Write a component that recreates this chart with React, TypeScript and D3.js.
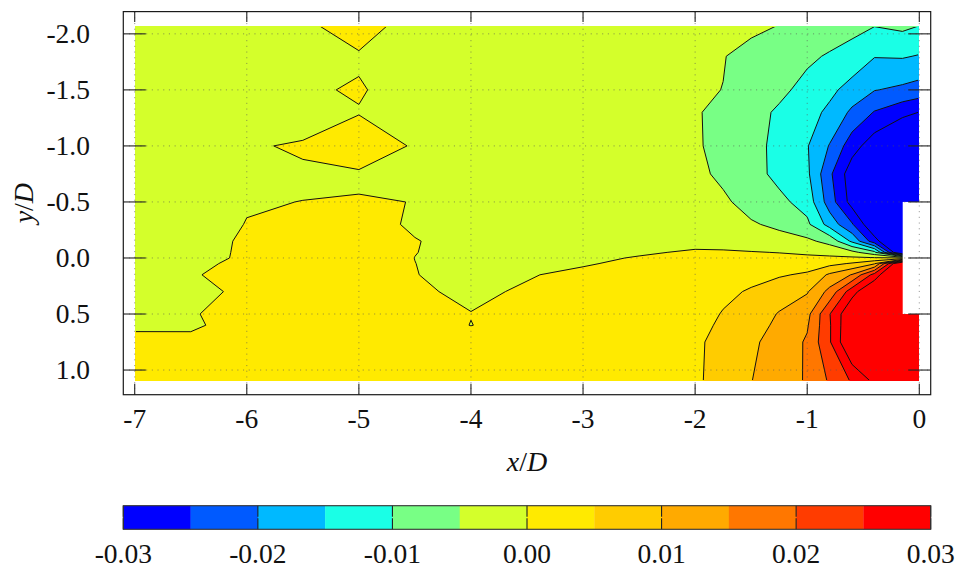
import React from 'react';
import * as d3 from 'd3';

// grid columns (x/D) and rows (y/D) of the measured field
const xGrid = [-7, -6.5, -6, -5.5, -5, -4.5, -4, -3.5, -3, -2.5, -2, -1.75, -1.5, -1.25, -1.0, -0.8, -0.6, -0.4, -0.15, 0];
const yGrid = [-2.07, -1.8, -1.5, -1.3, -1.0, -0.75, -0.5, -0.3, -0.15, -0.05, 0, 0.05, 0.15, 0.3, 0.5, 0.6, 0.75, 1.1];

// field values in units of 1e-3, one row per yGrid entry
const fieldRows = [
  [-2.0, -2.0, -1.9, -1.58, 3.68, -3.68, -2.2, -2.3, -2.4, -2.4, -2.5, -3.2, -4.2, -5.1, -6.3, -7.3, -8.5, -9.9, -9.0, -10.05],
  [-2.0, -2.0, -1.8, -1.5, -0.836, -2.5, -2.5, -2.6, -2.8, -3.0, -3.6, -4.85, -6.2, -7.6, -9.1, -10.5, -12.0, -14.8, -14.6, -15.3],
  [-2.0, -1.8, -1.6, -0.82, 0.557, -3.0, -2.5, -2.6, -2.9, -3.6, -4.5, -5.05, -7.2, -8.9, -11.5, -13.9, -16.8, -19.8, -21.0, -22.0],
  [-2.0, -1.8, -1.5, -1.5, -0.3, -2.0, -2.2, -2.5, -3.0, -3.8, -4.5, -6.5, -8.3, -10.7, -13.2, -16.0, -21.0, -25.3, -28.5, -30.1],
  [-1.8, -1.5, -0.277, 0.3, 3.5, -0.57, -1.8, -2.2, -2.8, -3.6, -4.4, -6.5, -8.8, -11.0, -14.7, -20.3, -27.8, -33.0, -38.0, -40.0],
  [-1.6, -1.2, -0.6, -0.325, -0.643, -0.5, -1.4, -1.8, -2.2, -2.8, -3.8, -6.0, -8.0, -11.5, -14.0, -24.0, -33.0, -38.0, -42.0, -43.0],
  [-1.5, -1.0, -0.12, 0.02, 0.25, -0.05, -0.9, -1.2, -1.6, -2.0, -2.5, -4.2, -6.8, -8.7, -12.0, -22.5, -32.0, -38.0, -42.0, -42.0],
  [-1.3, -0.8, 0.05, 0.8, 1.0, -0.35, -1.0, -1.0, -1.2, -1.4, -1.5, -2.5, -4.5, -6.0, -9.0, -17.0, -24.5, -35.0, -42.0, -42.0],
  [-1.2, -0.6, 0.2, 1.2, 1.3, 0.1, -0.8, -0.9, -0.9, -0.9, -0.8, -1.4, -2.2, -3.2, -4.0, -6.5, -16.0, -28.0, -40.0, -40.0],
  [-1.1, -0.5, 0.2, 1.3, 1.4, 0.05, -0.8, -0.8, -0.8, -0.3, 0.3, 0.4, 0.2, -0.1, -0.8, -1.8, -3.5, -8.5, -40.0, -40.0],
  [-1.0, -0.45, 0.2, 1.4, 1.5, -0.02, -0.8, -0.7, -0.5, 0.17, 0.8, 1.0, 1.0, 1.0, 1.0, 1.0, 0.8, 0.5, 0.0, 0.0],
  [-0.9, -0.3, 0.3, 1.5, 1.5, 0.02, -0.9, -0.7, -0.2, 0.5, 1.3, 1.6, 1.9, 2.3, 2.8, 3.6, 5.5, 9.5, 40.0, 40.0],
  [-0.8, -0.1, 0.4, 1.5, 1.5, 0.05, -0.6, -0.15, 0.5, 1.3, 2.2, 2.8, 3.5, 4.5, 5.7, 10.8, 15.3, 27.0, 42.0, 42.0],
  [-0.7, -0.35, 0.25, 1.5, 1.5, 0.3, -0.4, 0.25, 0.6, 1.3, 2.8, 3.9, 5.5, 7.8, 9.6, 16.5, 28.0, 36.0, 42.0, 42.0],
  [-0.5, -0.1, 0.5, 1.5, 1.5, 1.0, 0.05, 0.6, 1.0, 1.5, 2.9, 5.3, 7.5, 10.3, 13.5, 24.8, 35.0, 40.0, 42.0, 42.0],
  [-0.184, -0.22, 0.6, 1.5, 1.5, 1.1, -0.04, 0.9, 1.3, 1.9, 3.5, 5.8, 8.2, 10.9, 14.5, 24.5, 35.5, 41.0, 43.0, 43.0],
  [0.3, 0.35, 0.8, 1.5, 1.5, 1.5, 1.2, 1.5, 1.8, 2.5, 4.2, 6.5, 9.2, 11.8, 15.6, 24.5, 36.0, 42.0, 45.0, 45.0],
  [1.0, 1.2, 1.5, 1.8, 1.8, 1.8, 1.8, 2.0, 2.5, 3.2, 4.3, 6.7, 9.9, 12.5, 15.5, 20.6, 25.5, 31.0, 38.0, 40.0],
];
const fieldUnit = 1e-3;

const levels = [-0.03, -0.025, -0.02, -0.015, -0.01, -0.005, 0, 0.005, 0.01, 0.015, 0.02, 0.025, 0.03];
const bandColors = [
  '#0000ff', '#005aff', '#00b9ff', '#1affe6', '#78ff85', '#d4ff2b',
  '#ffea00', '#ffcc00', '#ffaa00', '#ff7700', '#ff3c00', '#ff0000',
];

const xTicks = [-7, -6, -5, -4, -3, -2, -1, 0];
const yTicks = [-2, -1.5, -1, -0.5, 0, 0.5, 1];
const yTickLabels = ['-2.0', '-1.5', '-1.0', '-0.5', '0.0', '0.5', '1.0'];
const cbTicks = [-0.03, -0.02, -0.01, 0, 0.01, 0.02, 0.03];
const cbTickLabels = ['-0.03', '-0.02', '-0.01', '0.00', '0.01', '0.02', '0.03'];

// blanked body region (no data)
const bodyX = [-0.148, 0];
const bodyY = [-0.5, 0.5];

const FONT = '"Liberation Serif", "DejaVu Serif", serif';

export default function App() {
  const W = 957;
  const H = 571;
  const xScale = d3.scaleLinear().domain([-7.1, 0.1]).range([123.5, 930.5]);
  const yScale = d3.scaleLinear().domain([-2.195, 1.22]).range([12, 394.7]);
  const cbScale = d3.scaleLinear().domain([-0.03, 0.03]).range([123.3, 930.7]);
  const cbTop = 505.7;
  const cbBot = 529.3;

  const nx = xGrid.length;
  const ny = yGrid.length;
  const values = fieldRows.flat().map((v) => v * fieldUnit);

  // index-space coordinate -> data coordinate; the outer half-cell is pushed
  // slightly outside the data box (it is clipped away afterwards)
  const mapIdx = (arr: number[]) => (c: number) => {
    const n = arr.length;
    if (c < 0.5) return arr[0] - (0.5 - c) * 0.06;
    if (c > n - 0.5) return arr[n - 1] + (c - (n - 0.5)) * 0.06;
    const t = c - 0.5;
    const i = Math.min(n - 2, Math.floor(t));
    return arr[i] + (arr[i + 1] - arr[i]) * (t - i);
  };
  const mx = mapIdx(xGrid);
  const my = mapIdx(yGrid);
  const proj = d3.geoTransform({
    point: function (this: any, x: number, y: number) {
      this.stream.point(xScale(mx(x)), yScale(my(y)));
    },
  });
  const path = d3.geoPath(proj);
  const gen = d3.contours().size([nx, ny]).smooth(true);

  const fills = levels.slice(1, 12).map((t, i) => ({
    d: path(gen.contour(values, t) as any) || '',
    color: bandColors[i + 1],
  }));
  const lines = levels.map((t) => path(gen.contour(values, t) as any) || '');

  // data box snapped to whole pixels so stacked fills do not bleed at the edges
  const dx0 = Math.round(xScale(xGrid[0]));
  const dx1 = Math.round(xScale(xGrid[nx - 1]));
  const dy0 = Math.round(yScale(yGrid[0]));
  const dy1 = Math.round(yScale(yGrid[ny - 1]));

  const fL = 123.3, fR = 930.7, fT = 11.6, fB = 394.7;

  return (
    <svg width={W} height={H} style={{ position: 'absolute', left: 0, top: 0, background: '#fff' }}>
      <defs>
        <clipPath id="dataBox">
          <rect x={dx0} y={dy0} width={dx1 - dx0} height={dy1 - dy0} />
        </clipPath>
        <clipPath id="inner">
          <rect x={dx0 + 1} y={dy0 + 1} width={dx1 - dx0 - 2} height={dy1 - dy0 - 2} />
        </clipPath>
      </defs>
      <rect x={0} y={0} width={W} height={H} fill="#fff" />
      <g clipPath="url(#dataBox)">
        <rect x={dx0 - 5} y={dy0 - 5} width={dx1 - dx0 + 10} height={dy1 - dy0 + 10} fill={bandColors[0]} />
        {fills.map((f, i) => (
          <path key={'f' + i} d={f.d} fill={f.color} stroke={f.color} strokeWidth={0.3} />
        ))}
      </g>
      <g clipPath="url(#inner)">
        {lines.map((d, i) => (
          <path key={'l' + i} d={d} fill="none" stroke="#111" strokeWidth={1} strokeLinejoin="round" />
        ))}
      </g>
      {/* blank body */}
      <rect
        x={xScale(bodyX[0])}
        y={yScale(bodyY[0])}
        width={xScale(bodyX[1]) - xScale(bodyX[0]) + 1}
        height={yScale(bodyY[1]) - yScale(bodyY[0])}
        fill="#fff"
      />
      {/* grid */}
      <g stroke="#555" strokeOpacity={0.6} strokeWidth={1} strokeDasharray="1.1 4.6">
        {xTicks.map((t) => (
          <line key={'gx' + t} x1={xScale(t)} x2={xScale(t)} y1={fT} y2={fB} />
        ))}
        {yTicks.map((t) => (
          <line key={'gy' + t} x1={fL} x2={fR} y1={yScale(t)} y2={yScale(t)} />
        ))}
      </g>
      {/* ticks */}
      <g stroke="#222" strokeWidth={1.1}>
        {xTicks.map((t) => (
          <g key={'tx' + t}>
            <line x1={xScale(t)} x2={xScale(t)} y1={fT} y2={fT + 10.5} />
            <line x1={xScale(t)} x2={xScale(t)} y1={fB} y2={fB - 11} />
          </g>
        ))}
        {yTicks.map((t) => (
          <g key={'ty' + t}>
            <line x1={fL} x2={fL + 22.5} y1={yScale(t)} y2={yScale(t)} />
            <line x1={fR} x2={fR - 22.5} y1={yScale(t)} y2={yScale(t)} />
          </g>
        ))}
      </g>
      <rect x={fL} y={fT} width={fR - fL} height={fB - fT} fill="none" stroke="#1a1a1a" strokeWidth={1.2} />
      {/* tick labels */}
      <g fontFamily={FONT} fontSize={27.5} fill="#111">
        {xTicks.map((t) => (
          <text key={'lx' + t} x={xScale(t)} y={428} textAnchor="middle">
            {String(t)}
          </text>
        ))}
        {yTicks.map((t, i) => (
          <text key={'ly' + t} x={90} y={yScale(t) + 9} textAnchor="end">
            {yTickLabels[i]}
          </text>
        ))}
      </g>
      {/* axis labels */}
      <text x={(fL + fR) / 2} y={471} textAnchor="middle" fontFamily={FONT} fontSize={28} fill="#111">
        <tspan fontStyle="italic">x</tspan>
        <tspan>/</tspan>
        <tspan fontStyle="italic">D</tspan>
      </text>
      <text
        transform={`translate(33, ${(fT + fB) / 2}) rotate(-90)`}
        textAnchor="middle"
        fontFamily={FONT}
        fontSize={28}
        fill="#111"
      >
        <tspan fontStyle="italic">y</tspan>
        <tspan>/</tspan>
        <tspan fontStyle="italic">D</tspan>
      </text>
      {/* colorbar */}
      {bandColors.map((c, i) => (
        <rect
          key={'cb' + i}
          x={cbScale(levels[i])}
          y={cbTop}
          width={cbScale(levels[i + 1]) - cbScale(levels[i]) + 0.3}
          height={cbBot - cbTop}
          fill={c}
        />
      ))}
      <g stroke="#222" strokeWidth={1.1}>
        {cbTicks.map((t) => (
          <g key={'cbt' + t}>
            <line x1={cbScale(t)} x2={cbScale(t)} y1={cbTop} y2={cbTop + 11} />
            <line x1={cbScale(t)} x2={cbScale(t)} y1={cbBot} y2={cbBot - 11} />
          </g>
        ))}
      </g>
      <rect x={cbScale(-0.03)} y={cbTop} width={cbScale(0.03) - cbScale(-0.03)} height={cbBot - cbTop} fill="none" stroke="#333" strokeWidth={1.1} />
      <g fontFamily={FONT} fontSize={27.5} fill="#111">
        {cbTicks.map((t, i) => (
          <text key={'cbl' + t} x={cbScale(t)} y={563} textAnchor="middle">
            {cbTickLabels[i]}
          </text>
        ))}
      </g>
    </svg>
  );
}
